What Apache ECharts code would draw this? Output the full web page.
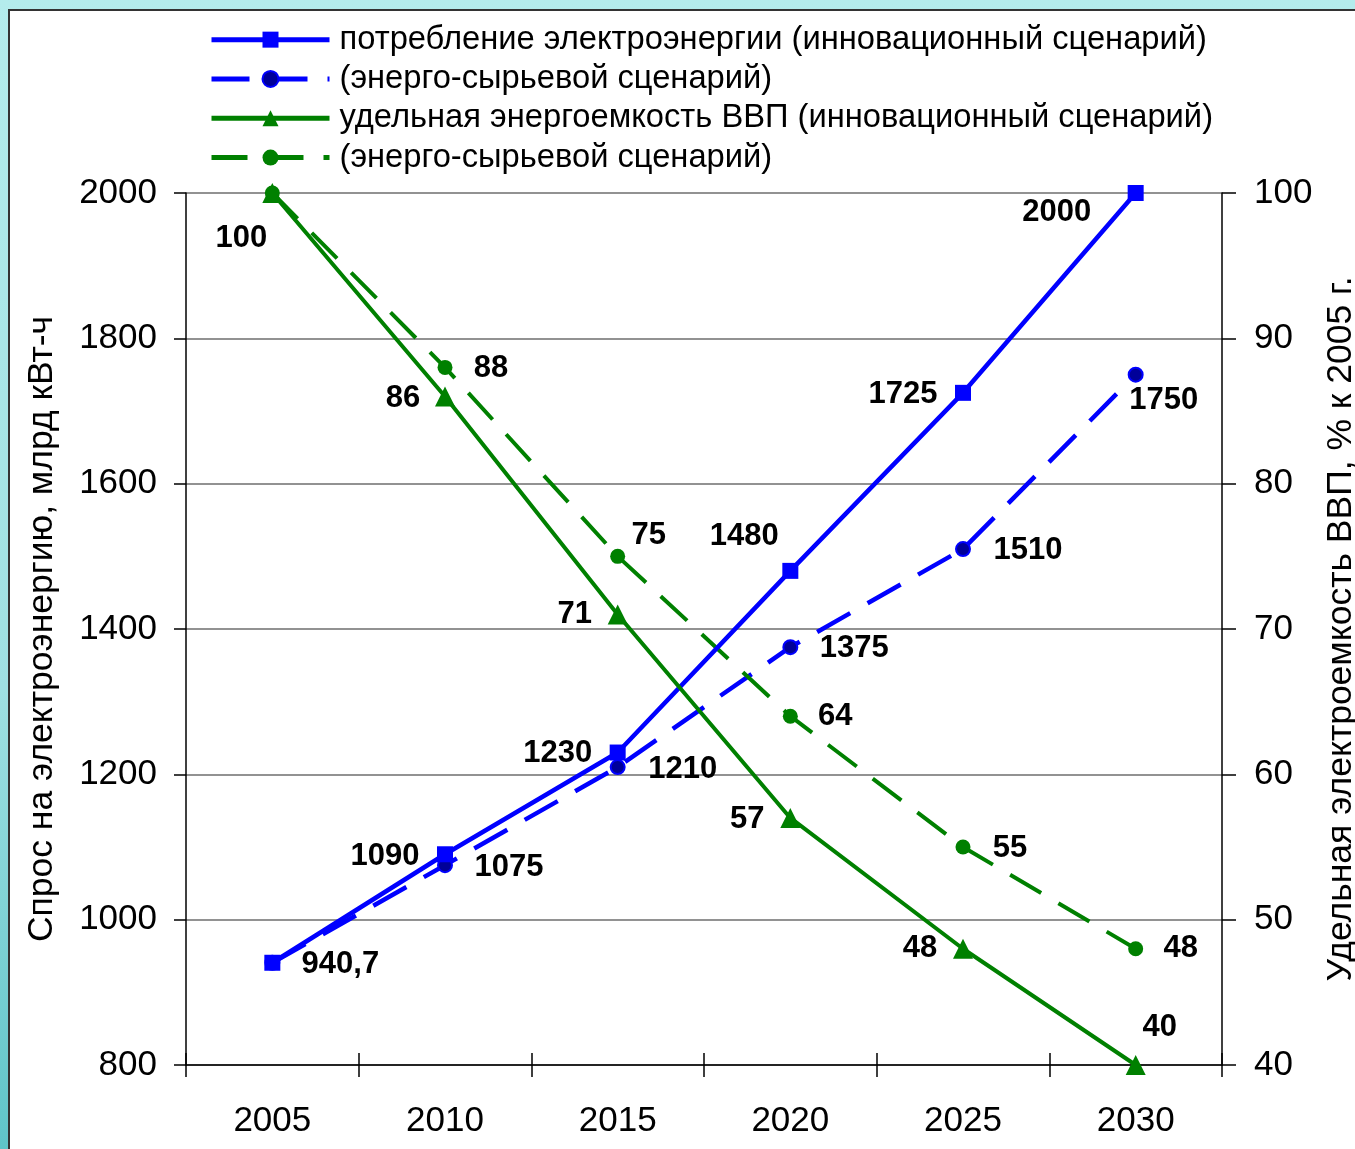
<!DOCTYPE html>
<html><head><meta charset="utf-8">
<script src="https://cdn.jsdelivr.net/npm/echarts@6/dist/echarts.min.js"></script>
<style>
html,body{margin:0;padding:0;width:1355px;height:1149px;overflow:hidden;}
body{background:linear-gradient(180deg,#b4ecec 0%,#9fe0e2 60%,#5fc4c8 100%);}
#panel{position:absolute;left:8px;top:9px;width:1400px;height:1200px;background:#fff;border-left:2px solid #333;border-top:2px solid #333;}
#chart{position:absolute;left:0;top:0;width:1355px;height:1149px;}
</style></head>
<body><div id="panel"></div><div id="chart"></div>
<script>
const years = ['2005','2010','2015','2020','2025','2030'];
const consumptionInnov = [940.7, 1090, 1230, 1480, 1725, 2000];
const consumptionRaw   = [940.7, 1075, 1210, 1375, 1510, 1750];
const intensityInnov   = [100, 86, 71, 57, 48, 40];
const intensityRaw     = [100, 88, 75, 64, 55, 48];
const consumptionInnovLabels = ['940,7','1090','1230','1480','1725','2000'];
const consumptionRawLabels   = ['','1075','1210','1375','1510','1750'];
const intensityInnovLabels   = ['100','86','71','57','48','40'];
const intensityRawLabels     = ['','88','75','64','55','48'];
const legendNames = {
  s1:'потребление электроэнергии (инновационный сценарий)',
  s2:'(энерго-сырьевой сценарий)',
  s3:'удельная энергоемкость ВВП (инновационный сценарий)',
  s4:'(энерго-сырьевой сценарий)'
};
const leftTicks = [800,1000,1200,1400,1600,1800,2000];
const rightTicks = [40,50,60,70,80,90,100];

// label offsets (style only)
const off1 = [[68,2],[-60,2],[-60,1],[-46,-34],[-60,2],[-79,19]];
const off2 = [[0,0],[64,2],[65,2],[64,1],[65,1],[28,26]];
const off3 = [[-31,45],[-42,2],[-43,0],[-43,2],[-43,0],[24,-38]];
const off4 = [[0,0],[46,1],[31,-21],[45,0],[47,1],[45,0]];

const FONT = '"Liberation Sans", Arial, sans-serif';
const lblBase = {show:true, position:'inside', color:'#000', fontWeight:'bold', fontSize:31, fontFamily:FONT, align:'center', verticalAlign:'middle'};
function mk(values, labels, offs){
  return values.map((v,i)=>({value:v, label: labels[i] ? Object.assign({}, lblBase, {offset:offs[i], formatter:labels[i]}) : {show:false}}));
}

const chart = echarts.init(document.getElementById('chart'), null, {renderer:'canvas'});
chart.setOption({
  backgroundColor:'transparent',
  animation:false,
  textStyle:{fontFamily:FONT},
  legend:{
    orient:'vertical', left:204, top:18, itemWidth:118, itemHeight:20, itemGap:6,
    data:['s1','s2','s3','s4'],
    formatter:(n)=>legendNames[n],
    lineStyle:{width:5},
    textStyle:{fontSize:32.7, lineHeight:33.3, color:'#000', fontFamily:FONT, padding:[0,0,0,5]}
  },
  grid:{left:186, right:133, top:193, bottom:84, containLabel:false, outerBoundsMode:'none'},
  xAxis:[{
    type:'category', data:years, boundaryGap:true,
    axisLine:{lineStyle:{color:'#000', width:1.5}},
    axisTick:{show:true, length:12, lineStyle:{color:'#000', width:1.5}},
    axisLabel:{fontSize:35, color:'#000', margin:39, fontFamily:FONT},
    splitLine:{show:false}
  },{
    type:'category', data:years, boundaryGap:true, position:'bottom',
    axisLine:{show:false},
    axisTick:{show:true, inside:true, length:12, lineStyle:{color:'#000', width:1.5}},
    axisLabel:{show:false}, splitLine:{show:false}
  }],
  yAxis:[{
    type:'value', min:800, max:2000, interval:200, position:'left',
    name:'Спрос на электроэнергию, млрд кВт-ч', nameLocation:'middle', nameGap:126, nameRotate:90,
    nameTextStyle:{fontSize:35.5, color:'#000', fontFamily:FONT},
    axisLine:{show:true, lineStyle:{color:'#000', width:1.5}},
    axisTick:{show:true, length:12, lineStyle:{color:'#000', width:1.5}},
    axisLabel:{fontSize:35, color:'#000', margin:29, fontFamily:FONT, formatter:(v)=>String(v)},
    splitLine:{show:true, lineStyle:{color:'#6e6e6e', width:1.5}}
  },{
    type:'value', min:40, max:100, interval:10, position:'right',
    name:'Удельная электроемкость ВВП, % к 2005 г.', nameLocation:'middle', nameGap:99, nameRotate:90,
    nameTextStyle:{fontSize:35.5, color:'#000', fontFamily:FONT},
    axisLine:{show:true, lineStyle:{color:'#000', width:1.5}},
    axisTick:{show:true, length:14, lineStyle:{color:'#000', width:1.5}},
    axisLabel:{fontSize:35, color:'#000', margin:32, fontFamily:FONT, formatter:(v)=>String(v)},
    splitLine:{show:false}
  }],
  series:[
    {name:'s1', type:'line', yAxisIndex:0, data:mk(consumptionInnov, consumptionInnovLabels, off1),
     symbol:'rect', symbolSize:16, lineStyle:{color:'#0000ff', width:4.5},
     itemStyle:{color:'#0000ff'}, z:4},
    {name:'s2', type:'line', yAxisIndex:0, data:mk(consumptionRaw, consumptionRawLabels, off2),
     symbol:'circle', symbolSize:14, lineStyle:{color:'#0000ff', width:4.5, type:[38,20]},
     itemStyle:{color:'#000099', borderColor:'#0000ff', borderWidth:2}, z:3},
    {name:'s3', type:'line', yAxisIndex:1, data:mk(intensityInnov, intensityInnovLabels, off3),
     symbol:'triangle', symbolSize:20, lineStyle:{color:'#008000', width:4},
     itemStyle:{color:'#008000'}, z:4},
    {name:'s4', type:'line', yAxisIndex:1, data:mk(intensityRaw, intensityRawLabels, off4),
     symbol:'circle', symbolSize:15, lineStyle:{color:'#008000', width:4, type:[36,20]},
     itemStyle:{color:'#008000'}, z:3}
  ]
});
</script></body></html>
